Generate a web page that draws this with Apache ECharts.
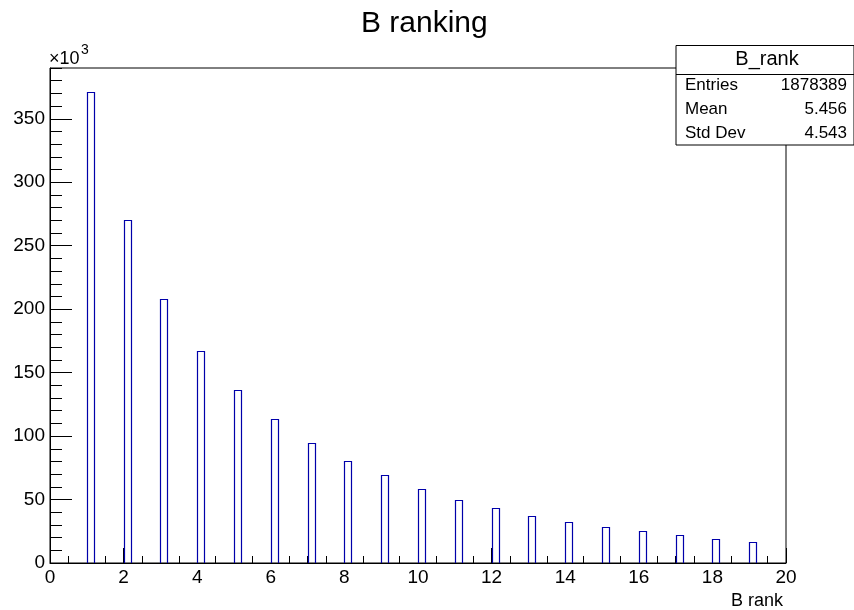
<!DOCTYPE html>
<html>
<head>
<meta charset="utf-8">
<script src="https://cdn.jsdelivr.net/npm/echarts@6/dist/echarts.min.js"></script>
<style>
html,body{margin:0;padding:0;background:#fff;}
#chart{width:854px;height:610px;}
</style>
</head>
<body>
<div id="chart"></div>
<script>
// Bin lower edges (B rank) and counts (in units of 10^3)
const ranks = [1, 2, 3, 4, 5, 6, 7, 8, 9, 10, 11, 12, 13, 14, 15, 16, 17, 18, 19];
const counts = [371.4, 270.3, 208.2, 167.4, 136.1, 113.4, 94.7, 80.3, 69.0, 58.2,
                49.7, 43.4, 37.1, 32.4, 28.2, 25.0, 21.9, 18.7, 16.6];
const binWidth = 0.2;
const statLabels = ['Entries', 'Mean', 'Std Dev'];
const statValues = ['1878389', '5.456', '4.543'];
const histName = 'B_rank';
const titleText = 'B ranking';
const xTitle = 'B rank';

const FONT = '"Liberation Sans", Arial, Helvetica, sans-serif';
const chart = echarts.init(document.getElementById('chart'), null, {renderer: 'canvas'});

const barData = ranks.map((r, i) => [r, counts[i]]);

const statGraphics = [
  {type: 'rect', shape: {x: 676, y: 45.5, width: 178, height: 99.5},
   style: {fill: '#fff', stroke: '#000', lineWidth: 1}, z: 100},
  {type: 'line', shape: {x1: 676, y1: 74.5, x2: 854, y2: 74.5},
   style: {stroke: '#000', lineWidth: 1}, z: 101},
  {type: 'text', x: 767, y: 59, z: 101,
   style: {text: histName, font: '20px ' + FONT, fill: '#000', align: 'center', verticalAlign: 'middle'}}
];
statLabels.forEach((lab, i) => {
  statGraphics.push({type: 'text', x: 685, y: 85 + i * 24, z: 101,
    style: {text: lab, font: '17px ' + FONT, fill: '#000', align: 'left', verticalAlign: 'middle'}});
  statGraphics.push({type: 'text', x: 847, y: 85 + i * 24, z: 101,
    style: {text: statValues[i], font: '17px ' + FONT, fill: '#000', align: 'right', verticalAlign: 'middle'}});
});

const option = {
  animation: false,
  backgroundColor: '#fff',
  title: {
    text: titleText, left: 356, top: 4,
    textStyle: {fontFamily: FONT, fontSize: 30, fontWeight: 'normal', color: '#000'}
  },
  grid: {left: 50, right: 68, top: 68, bottom: 47, show: true, borderColor: '#000', borderWidth: 1, backgroundColor: 'transparent'},
  xAxis: {
    type: 'value', min: 0, max: 20, interval: 2,
    name: xTitle, nameLocation: 'end', nameGap: 0,
    nameTextStyle: {fontFamily: FONT, fontSize: 18, color: '#000', align: 'right', verticalAlign: 'top', padding: [29, 3, 0, 0]},
    axisLine: {show: true, lineStyle: {color: '#000', width: 1}},
    axisTick: {show: true, inside: true, length: 15, lineStyle: {color: '#000', width: 1}},
    minorTick: {show: true, splitNumber: 4, length: 7, lineStyle: {color: '#000', width: 1}},
    axisLabel: {fontFamily: FONT, fontSize: 19, color: '#000', margin: 5},
    splitLine: {show: false}, minorSplitLine: {show: false}
  },
  yAxis: [
    {
      type: 'value', min: 0, max: 390, interval: 50, position: 'left',
      axisLine: {show: true, lineStyle: {color: '#000', width: 1}},
      axisTick: {show: true, inside: true, length: 22, lineStyle: {color: '#000', width: 1}},
      axisLabel: {fontFamily: FONT, fontSize: 19, color: '#000', margin: 5, showMaxLabel: false},
      splitLine: {show: false}
    },
    {
      type: 'value', min: 0, max: 390, interval: 10, position: 'left',
      axisLine: {show: false},
      axisTick: {show: true, inside: true, length: 12, lineStyle: {color: '#000', width: 1}},
      axisLabel: {show: false},
      splitLine: {show: false}
    }
  ],
  graphic: [
    {type: 'text', x: 49, y: 59, z: 50,
     style: {text: '\u00d710', font: '18px ' + FONT, fill: '#000', align: 'left', verticalAlign: 'middle'}},
    {type: 'text', x: 81, y: 50, z: 50,
     style: {text: '3', font: '14px ' + FONT, fill: '#000', align: 'left', verticalAlign: 'middle'}}
  ].concat(statGraphics),
  series: [{
    type: 'custom',
    xAxisIndex: 0, yAxisIndex: 0,
    data: barData,
    clip: true,
    z: 1,
    renderItem: function (params, api) {
      const x0 = api.value(0);
      const v = api.value(1);
      const p0 = api.coord([x0, v]);
      const p1 = api.coord([x0 + binWidth, 0]);
      return {
        type: 'rect',
        shape: {x: Math.round(p0[0]) + 0.5, y: Math.round(p0[1]) + 0.5,
                width: Math.round(p1[0] - p0[0]), height: Math.round(p1[1] - p0[1])},
        style: {fill: 'none', stroke: '#0000aa', lineWidth: 1.2}
      };
    }
  }]
};
chart.setOption(option);
</script>
</body>
</html>
